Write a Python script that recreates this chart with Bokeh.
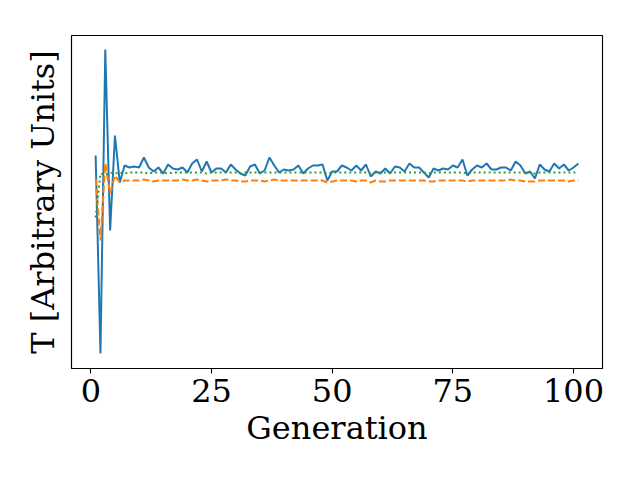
from bokeh.plotting import figure
from bokeh.models import Range1d, FixedTicker
from bokeh.embed import file_html
from bokeh.resources import INLINE

generation = list(range(1, 102))

t_blue = [0.95, -1.03, 2.01, 0.20, 1.15, 0.68, 0.85, 0.83, 0.84, 0.83,
          0.93, 0.83, 0.79, 0.83, 0.77, 0.86, 0.82, 0.81, 0.83, 0.78,
          0.87, 0.91, 0.79, 0.89, 0.78, 0.82, 0.82, 0.78, 0.86, 0.81,
          0.77, 0.75, 0.84, 0.86, 0.77, 0.80, 0.93, 0.85, 0.78, 0.81,
          0.80, 0.81, 0.85, 0.77, 0.82, 0.85, 0.85, 0.86, 0.70, 0.79,
          0.79, 0.85, 0.83, 0.80, 0.85, 0.80, 0.86, 0.74, 0.79, 0.77,
          0.82, 0.77, 0.84, 0.83, 0.79, 0.87, 0.83, 0.83, 0.78, 0.73,
          0.82, 0.80, 0.82, 0.81, 0.85, 0.83, 0.91, 0.75, 0.81, 0.85,
          0.83, 0.87, 0.81, 0.81, 0.83, 0.83, 0.80, 0.89, 0.85, 0.77,
          0.79, 0.72, 0.86, 0.81, 0.79, 0.87, 0.82, 0.86, 0.80, 0.83,
          0.87]

t_orange = [0.72, 0.10, 0.87, 0.57, 0.75, 0.68, 0.70, 0.70, 0.70, 0.70,
            0.71, 0.70, 0.69, 0.70, 0.70, 0.70, 0.70, 0.70, 0.71, 0.70,
            0.70, 0.71, 0.70, 0.69, 0.70, 0.70, 0.70, 0.71, 0.70, 0.70,
            0.69, 0.69, 0.70, 0.70, 0.70, 0.69, 0.70, 0.71, 0.70, 0.70,
            0.70, 0.70, 0.70, 0.70, 0.70, 0.70, 0.70, 0.70, 0.68, 0.69,
            0.70, 0.70, 0.70, 0.70, 0.69, 0.70, 0.70, 0.68, 0.70, 0.69,
            0.69, 0.70, 0.70, 0.70, 0.70, 0.70, 0.70, 0.70, 0.70, 0.69,
            0.69, 0.70, 0.70, 0.70, 0.70, 0.70, 0.70, 0.69, 0.70, 0.70,
            0.70, 0.70, 0.70, 0.70, 0.70, 0.70, 0.71, 0.70, 0.70, 0.69,
            0.69, 0.69, 0.70, 0.70, 0.70, 0.70, 0.70, 0.70, 0.69, 0.70,
            0.70]

t_green = [0.33, 0.77, 0.76, 0.78, 0.77, 0.78, 0.77, 0.78, 0.78, 0.78,
           0.78, 0.77, 0.78, 0.78, 0.78, 0.77, 0.78, 0.78, 0.78, 0.78,
           0.78, 0.78, 0.78, 0.77, 0.78, 0.78, 0.78, 0.78, 0.78, 0.78,
           0.77, 0.78, 0.78, 0.78, 0.78, 0.78, 0.78, 0.78, 0.78, 0.78,
           0.78, 0.78, 0.78, 0.78, 0.78, 0.78, 0.78, 0.78, 0.77, 0.78,
           0.78, 0.78, 0.78, 0.78, 0.78, 0.78, 0.78, 0.77, 0.78, 0.78,
           0.78, 0.78, 0.78, 0.78, 0.78, 0.78, 0.78, 0.78, 0.78, 0.77,
           0.78, 0.78, 0.78, 0.78, 0.78, 0.78, 0.78, 0.77, 0.78, 0.78,
           0.78, 0.78, 0.78, 0.78, 0.78, 0.78, 0.78, 0.78, 0.78, 0.78,
           0.78, 0.77, 0.78, 0.78, 0.78, 0.78, 0.78, 0.78, 0.78, 0.78,
           0.78]

x_ticks = [0, 25, 50, 75, 100]

FONT = "DejaVu Serif"

p = figure(width=624, height=464, output_backend="svg", toolbar_location=None,
           x_range=Range1d(-4, 106), y_range=Range1d(-1.18, 2.15),
           min_border_left=71, min_border_right=22, min_border_top=35,
           min_border_bottom=96)

p.grid.visible = False
p.background_fill_color = "white"
p.border_fill_color = "white"
p.outline_line_color = "black"
p.outline_line_width = 1.1

p.line(generation, t_blue, line_color="#1f77b4", line_width=2)
p.line(generation, t_orange, line_color="#ff7f0e", line_width=2, line_dash="7 3")
p.line(generation, t_green, line_color="#2ca02c", line_width=2, line_dash="2 3")

p.xaxis.ticker = FixedTicker(ticks=x_ticks)
p.xaxis.minor_tick_line_color = None
p.xaxis.major_tick_out = 5
p.xaxis.major_tick_in = 0
p.xaxis.major_tick_line_width = 1.1
p.xaxis.axis_line_width = 1.1
p.xaxis.major_label_text_font = FONT
p.xaxis.major_label_text_font_size = "32px"
p.xaxis.major_label_text_color = "black"
p.xaxis.major_label_standoff = 5
p.xaxis.axis_label = "Generation"
p.xaxis.axis_label_text_font = FONT
p.xaxis.axis_label_text_font_size = "32px"
p.xaxis.axis_label_text_font_style = "normal"
p.xaxis.axis_label_text_color = "black"
p.xaxis.axis_label_standoff = 4

p.yaxis.ticker = FixedTicker(ticks=[])
p.yaxis.minor_tick_line_color = None
p.yaxis.major_tick_line_color = None
p.yaxis.axis_line_width = 1.1
p.yaxis.axis_label = "T [Arbitrary Units]"
p.yaxis.axis_label_text_font = FONT
p.yaxis.axis_label_text_font_size = "32px"
p.yaxis.axis_label_text_font_style = "normal"
p.yaxis.axis_label_text_color = "black"
p.yaxis.axis_label_standoff = 10

open("out.html", "w").write(file_html(p, INLINE))
